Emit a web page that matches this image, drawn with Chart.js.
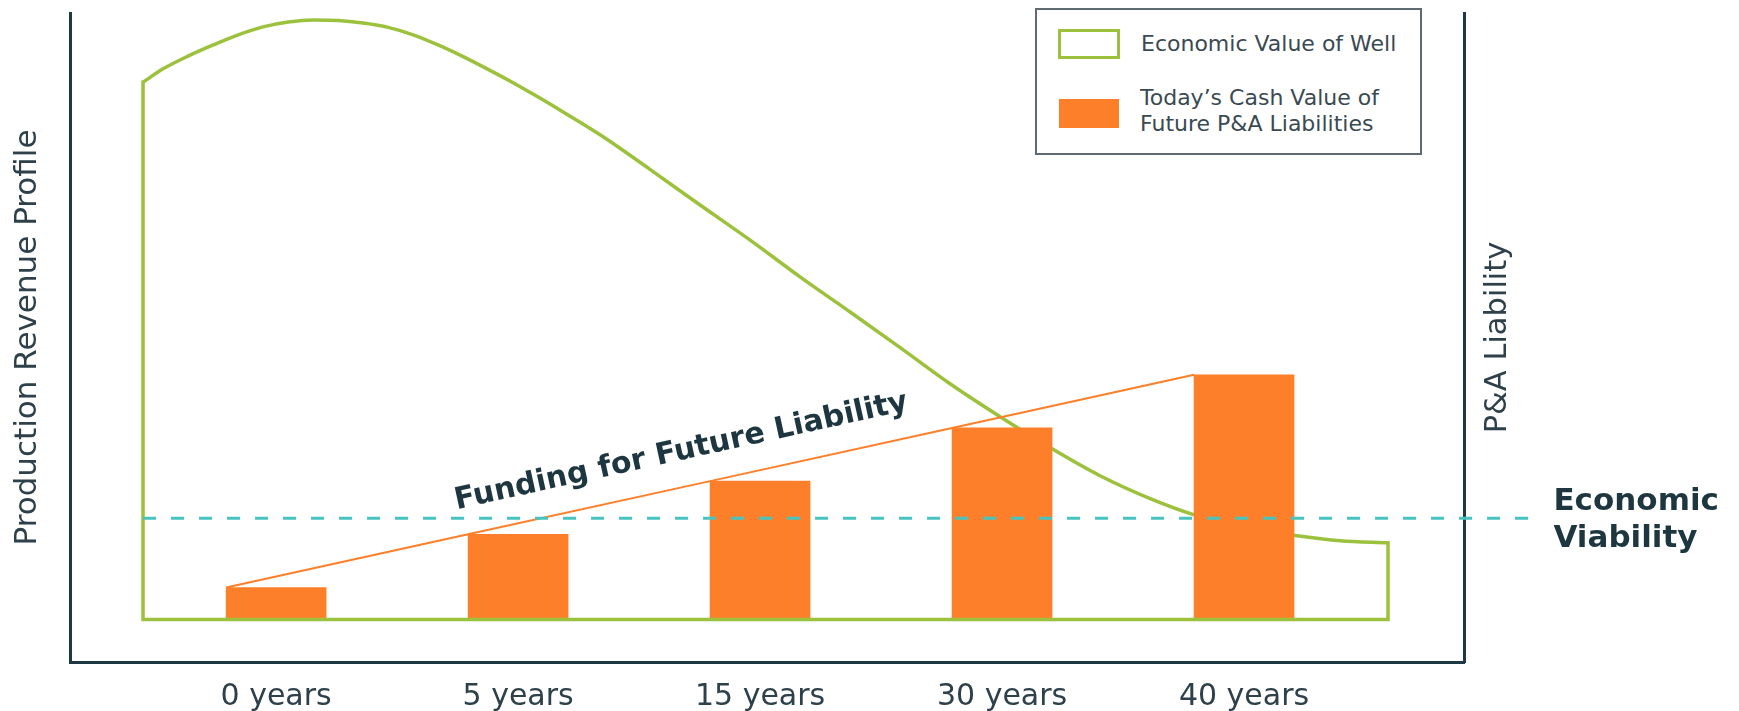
<!DOCTYPE html>
<html lang="en">
<head>
<meta charset="utf-8">
<title>Economic Value of Well vs. P&amp;A Liability</title>
<script src="https://cdn.jsdelivr.net/npm/chart.js@4.4.1/dist/chart.umd.min.js"></script>
<style>
  html, body { margin: 0; padding: 0; background: #ffffff; }
  #stage { position: relative; width: 1739px; height: 711px; overflow: hidden; }
  #chart { display: block; }
  #legend {
    position: absolute; left: 1035px; top: 8px; width: 387px; height: 147px;
    box-sizing: border-box; border: 2px solid #5f6b72; background: #ffffff;
    font-family: 'DejaVu Sans', sans-serif; font-size: 22px; color: #3a4a52;
  }
  .legend-item { position: absolute; left: 21px; display: flex; align-items: center; }
  .legend-swatch { box-sizing: border-box; flex: none; margin-right: 21px; }
  .legend-text { white-space: pre-line; line-height: 26px; }
</style>
</head>
<body>
<div id="stage">
  <canvas id="chart" width="1739" height="711"></canvas>
  <div id="legend"></div>
</div>
<script>
// Time horizons shown along the bottom axis (evenly spaced slots)
const yearLabels = ['0 years', '5 years', '15 years', '30 years', '40 years'];
const yearSlots = [0, 1, 2, 3, 4];

// Today's cash value of future P&A liabilities at each horizon
const liabilityValues = [6, 16, 26, 36, 46];

// Production revenue profile (economic value of the well) along the slot axis
const wellSlots = [-0.550, -0.467, -0.364, -0.260, -0.157, -0.054, 0.050, 0.153, 0.256, 0.360,
                   0.463, 0.566, 0.669, 0.773, 0.876, 0.979, 1.083, 1.186, 1.339, 1.545,
                   1.752, 1.959, 2.165, 2.372, 2.579, 2.785, 2.992, 3.198, 3.405, 3.612,
                   3.798, 4.004, 4.211, 4.397, 4.595];
const wellValues = [101.0, 103.5, 105.9, 108.0, 109.9, 111.4, 112.3, 112.7, 112.6, 112.1,
                    111.3, 109.9, 108.0, 105.8, 103.4, 100.9, 98.2, 95.4, 91.1, 84.6,
                    77.9, 71.3, 64.4, 57.8, 51.1, 44.3, 38.1, 32.3, 27.0, 22.7,
                    19.6, 17.3, 15.8, 14.8, 14.4];

// Economic viability threshold and the slot range its marker spans
const viabilityLevel = 19;
const viabilitySpan = [-0.55, 5.2];

const GREEN = '#9cc13c';
const ORANGE = '#fe7f29';
const TEAL = '#48c4c0';
const DARK = '#1d3640';
const AXIS = '#1f3943';
const TEXT = '#2e414a';
const FONT = "'DejaVu Sans', sans-serif";

const wellPoints = wellSlots.map((x, i) => ({ x, y: wellValues[i] }));
const first = wellPoints[0];
const last = wellPoints[wellPoints.length - 1];

// Orange line through the top-left corners of the liability bars, with its caption
const fundingLine = {
  id: 'fundingLine',
  afterDatasetDraw(chart, args) {
    if (chart.data.datasets[args.index].role !== 'liability') return;
    const pts = args.meta.data.map(bar => {
      const p = bar.getProps(['x', 'y', 'width'], true);
      return { x: p.x - p.width / 2, y: p.y };
    });
    const ctx = chart.ctx;
    ctx.save();
    ctx.strokeStyle = ORANGE;
    ctx.lineWidth = 2;
    ctx.beginPath();
    pts.forEach((p, i) => (i ? ctx.lineTo(p.x, p.y) : ctx.moveTo(p.x, p.y)));
    ctx.stroke();

    const a = pts[0], b = pts[pts.length - 1];
    const angle = Math.atan2(b.y - a.y, b.x - a.x);
    const t = 0.478;
    ctx.translate(a.x + (b.x - a.x) * t, a.y + (b.y - a.y) * t);
    ctx.rotate(angle);
    ctx.font = 'bold 30px ' + FONT;
    ctx.fillStyle = DARK;
    ctx.textAlign = 'center';
    ctx.textBaseline = 'alphabetic';
    ctx.fillText('Funding for Future Liability', 0, -27);
    ctx.restore();
  }
};

// Right-hand axis caption and the viability marker label
const sideLabels = {
  id: 'sideLabels',
  afterDraw(chart) {
    const ctx = chart.ctx;
    const area = chart.chartArea;
    ctx.save();
    ctx.fillStyle = TEXT;
    ctx.font = '30.5px ' + FONT;
    ctx.textAlign = 'center';
    ctx.textBaseline = 'middle';
    ctx.translate(area.right + 34, (area.top + area.bottom) / 2);
    ctx.rotate(-Math.PI / 2);
    ctx.fillText('P&A Liability', 0, 0);
    ctx.restore();

    const idx = chart.data.datasets.findIndex(d => d.role === 'viability');
    const pts = chart.getDatasetMeta(idx).data;
    const end = pts[pts.length - 1];
    ctx.save();
    ctx.fillStyle = DARK;
    ctx.font = 'bold 31px ' + FONT;
    ctx.textAlign = 'left';
    ctx.textBaseline = 'alphabetic';
    ctx.fillText('Economic', end.x + 19, end.y - 8);
    ctx.fillText('Viability', end.x + 19, end.y + 29);
    ctx.restore();
  }
};

// Boxed legend built from the labelled datasets
const htmlLegend = {
  id: 'htmlLegend',
  afterUpdate(chart) {
    const box = document.getElementById('legend');
    box.innerHTML = '';
    const rows = [{ top: 14, height: 40 }, { top: 63, height: 81 }];
    chart.data.datasets.filter(d => d.label).forEach((ds, i) => {
      const item = document.createElement('div');
      item.className = 'legend-item';
      item.style.top = rows[i].top + 'px';
      item.style.height = rows[i].height + 'px';
      const sw = document.createElement('span');
      sw.className = 'legend-swatch';
      if (ds.type === 'bar') {
        sw.style.width = '60px';
        sw.style.height = '29px';
        sw.style.marginLeft = '1px';
        sw.style.background = ds.backgroundColor;
      } else {
        sw.style.width = '62px';
        sw.style.height = '30px';
        sw.style.border = '3px solid ' + ds.borderColor;
        sw.style.background = '#ffffff';
      }
      const txt = document.createElement('span');
      txt.className = 'legend-text';
      txt.textContent = ds.label;
      if (ds.type === 'bar') txt.style.marginTop = '-5px';
      item.appendChild(sw);
      item.appendChild(txt);
      box.appendChild(item);
    });
  }
};

Chart.defaults.font.family = FONT;

new Chart(document.getElementById('chart'), {
  type: 'line',
  data: {
    datasets: [
      {
        label: 'Economic Value of Well',
        type: 'line',
        data: wellPoints,
        borderColor: GREEN,
        borderWidth: 3.5,
        pointRadius: 0,
        fill: false,
        tension: 0.4,
        cubicInterpolationMode: 'monotone',
        yAxisID: 'y',
        order: 5
      },
      {
        type: 'line',
        role: 'outline',
        data: [
          { x: first.x, y: first.y },
          { x: first.x, y: 0 },
          { x: last.x, y: 0 },
          { x: last.x, y: last.y }
        ],
        borderColor: GREEN,
        borderWidth: 3.5,
        borderJoinStyle: 'miter',
        borderCapStyle: 'square',
        pointRadius: 0,
        fill: false,
        tension: 0,
        yAxisID: 'y',
        order: 1
      },
      {
        label: 'Today\u2019s Cash Value of\nFuture P&A Liabilities',
        type: 'bar',
        role: 'liability',
        data: yearSlots.map((x, i) => ({ x, y: liabilityValues[i] })),
        backgroundColor: ORANGE,
        borderWidth: 0,
        barThickness: 100,
        yAxisID: 'y1',
        order: 3
      },
      {
        type: 'line',
        role: 'viability',
        data: viabilitySpan.map(x => ({ x, y: viabilityLevel })),
        borderColor: TEAL,
        borderWidth: 3,
        borderDash: [13, 15],
        pointRadius: 0,
        fill: false,
        clip: false,
        yAxisID: 'y',
        order: 0
      }
    ]
  },
  options: {
    responsive: false,
    devicePixelRatio: 1,
    animation: false,
    events: [],
    layout: { padding: { left: 0, right: 275, top: 13, bottom: -22 } },
    plugins: {
      legend: { display: false },
      tooltip: { enabled: false }
    },
    scales: {
      x: {
        type: 'linear',
        min: -0.851,
        max: 4.909,
        offset: false,
        grid: { display: false, drawTicks: false },
        border: { display: true, color: AXIS, width: 3 },
        afterBuildTicks: scale => { scale.ticks = yearSlots.map(v => ({ value: v })); },
        ticks: {
          autoSkip: false,
          maxRotation: 0,
          padding: 22,
          color: TEXT,
          font: { size: 30, lineHeight: 0.9 },
          callback: value => yearLabels[yearSlots.indexOf(value)] ?? ''
        }
      },
      y: {
        type: 'linear',
        position: 'left',
        min: -8,
        max: 114,
        grid: { display: false, drawTicks: false },
        border: { display: true, color: AXIS, width: 3 },
        ticks: { display: false },
        title: {
          display: true,
          text: 'Production Revenue Profile',
          color: TEXT,
          font: { size: 31 },
          padding: { top: 9, bottom: 24 }
        }
      },
      y1: {
        type: 'linear',
        position: 'right',
        min: -8,
        max: 114,
        grid: { display: false, drawTicks: false },
        border: { display: true, color: AXIS, width: 3 },
        ticks: { display: false }
      }
    }
  },
  plugins: [fundingLine, sideLabels, htmlLegend]
});
</script>
</body>
</html>
